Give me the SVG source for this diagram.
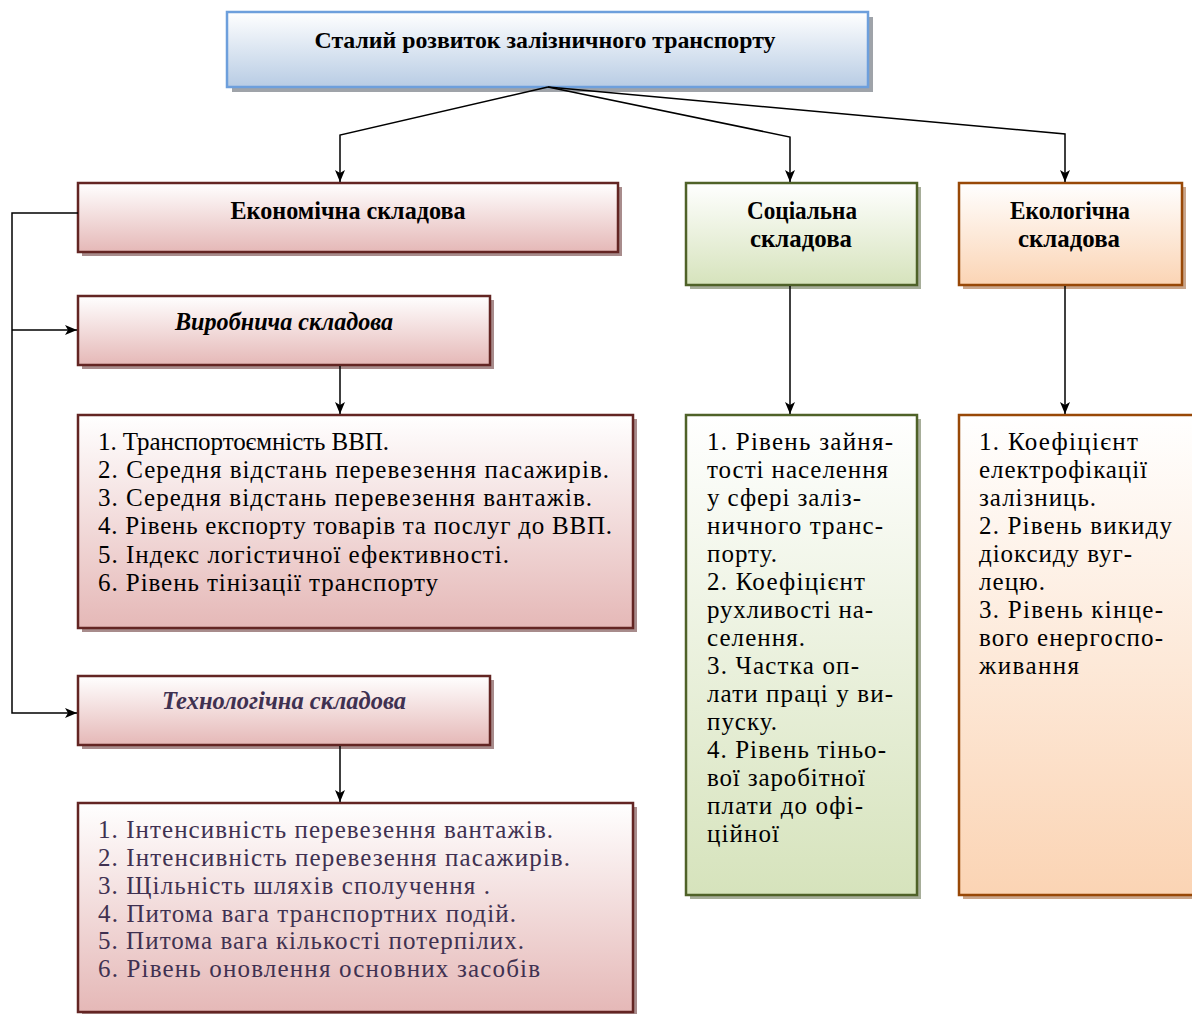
<svg xmlns="http://www.w3.org/2000/svg" width="1192" height="1014" viewBox="0 0 1192 1014">
<defs>
<linearGradient id="gBlue" x1="0" y1="0" x2="0" y2="1"><stop offset="0" stop-color="#ffffff"/><stop offset="1" stop-color="#b8cce4"/></linearGradient>
<linearGradient id="gRed" x1="0" y1="0" x2="0" y2="1"><stop offset="0" stop-color="#ffffff"/><stop offset="1" stop-color="#e5b8b7"/></linearGradient>
<linearGradient id="gGreen" x1="0" y1="0" x2="0" y2="1"><stop offset="0" stop-color="#ffffff"/><stop offset="1" stop-color="#d6e3bc"/></linearGradient>
<linearGradient id="gOrange" x1="0" y1="0" x2="0" y2="1"><stop offset="0" stop-color="#ffffff"/><stop offset="1" stop-color="#fbd4b4"/></linearGradient>
<marker id="arr" viewBox="0 0 12 10" refX="12" refY="5" markerWidth="12" markerHeight="10" markerUnits="userSpaceOnUse" orient="auto">
<path d="M0,0 L12,5 L0,10 L3,5 z" fill="#000"/>
</marker>
<style>
.sh-b{fill:#9fa3a9}
.sh-r{fill:#a88c8c}
.sh-g{fill:#a7ae9a}
.sh-o{fill:#c9a68c}
.bx-b{fill:url(#gBlue);stroke:#6d9fdc;stroke-width:2.5}
.bx-r{fill:url(#gRed);stroke:#632523;stroke-width:2.5}
.bx-g{fill:url(#gGreen);stroke:#4f6228;stroke-width:2.5}
.bx-o{fill:url(#gOrange);stroke:#984807;stroke-width:2.5}
.hd{font-family:"Liberation Serif","Times New Roman",serif;font-weight:bold;fill:#000;text-anchor:middle}
.it{font-style:italic}
.ls{font-family:"Liberation Serif","Times New Roman",serif;font-size:25px;fill:#000}
.ls2{font-family:"Liberation Serif","Times New Roman",serif;font-size:25px;fill:#000}
.lp{fill:#3f3151}
.cn{fill:none;stroke:#000;stroke-width:1.5}
</style>
</defs>
<rect width="1192" height="1014" fill="#fff"/>

<g id="node-root">
<rect class="sh-b" x="232" y="17" width="641" height="75"/>
<rect class="bx-b" x="227" y="12" width="641" height="75"/>
<text class="hd" x="545" y="48" font-size="24" textLength="461" lengthAdjust="spacingAndGlyphs">Сталий розвиток залізничного транспорту</text>
</g>

<g id="node-econ">
<rect class="sh-r" x="82" y="187" width="540" height="69"/>
<rect class="bx-r" x="78" y="183" width="540" height="69"/>
<text class="hd" x="348" y="219" font-size="26" textLength="235" lengthAdjust="spacingAndGlyphs">Економічна складова</text>
</g>

<g id="node-vyrob">
<rect class="sh-r" x="82" y="300" width="412" height="69"/>
<rect class="bx-r" x="78" y="296" width="412" height="69"/>
<text class="hd it" x="284" y="330" font-size="25" textLength="218" lengthAdjust="spacingAndGlyphs">Виробнича складова</text>
</g>

<g id="node-vyrob-list">
<rect class="sh-r" x="82" y="419" width="555" height="213"/>
<rect class="bx-r" x="78" y="415" width="555" height="213"/>
<text class="ls" x="98" y="450" textLength="291">1. Транспортоємність ВВП.</text>
<text class="ls" x="98" y="478" textLength="511">2. Середня відстань перевезення пасажирів.</text>
<text class="ls" x="98" y="506" textLength="494">3. Середня відстань перевезення вантажів.</text>
<text class="ls" x="98" y="534" textLength="514">4. Рівень експорту товарів та послуг до ВВП.</text>
<text class="ls" x="98" y="563" textLength="411">5. Індекс логістичної ефективності.</text>
<text class="ls" x="98" y="591" textLength="340">6. Рівень тінізації транспорту</text>
</g>

<g id="node-tech">
<rect class="sh-r" x="82" y="680" width="412" height="69"/>
<rect class="bx-r" x="78" y="676" width="412" height="69"/>
<text class="hd it" x="284" y="709" font-size="25" style="fill:#3f3151" textLength="244" lengthAdjust="spacingAndGlyphs">Технологічна складова</text>
</g>

<g id="node-tech-list">
<rect class="sh-r" x="82" y="807" width="555" height="209"/>
<rect class="bx-r" x="78" y="803" width="555" height="209"/>
<text class="ls lp" x="98" y="838" textLength="455">1. Інтенсивність перевезення вантажів.</text>
<text class="ls lp" x="98" y="866" textLength="472">2. Інтенсивність перевезення пасажирів.</text>
<text class="ls lp" x="98" y="894" textLength="392">3. Щільність шляхів сполучення .</text>
<text class="ls lp" x="98" y="922" textLength="418">4. Питома вага транспортних подій.</text>
<text class="ls lp" x="98" y="949" textLength="426">5. Питома вага кількості потерпілих.</text>
<text class="ls lp" x="98" y="977" textLength="442">6. Рівень оновлення основних засобів</text>
</g>

<g id="node-social">
<rect class="sh-g" x="690" y="187" width="231" height="102"/>
<rect class="bx-g" x="686" y="183" width="231" height="102"/>
<text class="hd" x="802" y="219" font-size="26" textLength="110" lengthAdjust="spacingAndGlyphs">Соціальна</text>
<text class="hd" x="801" y="247" font-size="26" textLength="102" lengthAdjust="spacingAndGlyphs">складова</text>
</g>

<g id="node-social-list">
<rect class="sh-g" x="690" y="419" width="231" height="480"/>
<rect class="bx-g" x="686" y="415" width="231" height="480"/>
<text class="ls2" x="707" y="450" textLength="186">1. Рівень зайня-</text>
<text class="ls2" x="707" y="478" textLength="181">тості населення</text>
<text class="ls2" x="707" y="506" textLength="154">у сфері заліз-</text>
<text class="ls2" x="707" y="534" textLength="176">ничного транс-</text>
<text class="ls2" x="707" y="562" textLength="70">порту.</text>
<text class="ls2" x="707" y="590" textLength="158">2. Коефіцієнт</text>
<text class="ls2" x="707" y="618" textLength="166">рухливості на-</text>
<text class="ls2" x="707" y="646" textLength="98">селення.</text>
<text class="ls2" x="707" y="674" textLength="152">3. Частка оп-</text>
<text class="ls2" x="707" y="702" textLength="186">лати праці у ви-</text>
<text class="ls2" x="707" y="730" textLength="70">пуску.</text>
<text class="ls2" x="707" y="758" textLength="179">4. Рівень тіньо-</text>
<text class="ls2" x="707" y="786" textLength="158">вої заробітної</text>
<text class="ls2" x="707" y="814" textLength="156">плати до офі-</text>
<text class="ls2" x="707" y="842" textLength="72">ційної</text>
</g>

<g id="node-eco">
<rect class="sh-o" x="963" y="187" width="223" height="102"/>
<rect class="bx-o" x="959" y="183" width="223" height="102"/>
<text class="hd" x="1070" y="219" font-size="26" textLength="120" lengthAdjust="spacingAndGlyphs">Екологічна</text>
<text class="hd" x="1069" y="247" font-size="26" textLength="102" lengthAdjust="spacingAndGlyphs">складова</text>
</g>

<g id="node-eco-list">
<rect class="sh-o" x="963" y="419" width="240" height="480"/>
<rect class="bx-o" x="959" y="415" width="240" height="480"/>
<text class="ls2" x="979" y="450" textLength="159">1. Коефіцієнт</text>
<text class="ls2" x="979" y="478" textLength="168">електрофікації</text>
<text class="ls2" x="979" y="506" textLength="117">залізниць.</text>
<text class="ls2" x="979" y="534" textLength="193">2. Рівень викиду</text>
<text class="ls2" x="979" y="562" textLength="153">діоксиду вуг-</text>
<text class="ls2" x="979" y="590" textLength="66">лецю.</text>
<text class="ls2" x="979" y="618" textLength="184">3. Рівень кінце-</text>
<text class="ls2" x="979" y="646" textLength="184">вого енергоспо-</text>
<text class="ls2" x="979" y="674" textLength="100">живання</text>
</g>

<g id="connectors">
<polyline class="cn" points="548,87 340,135 340,182" marker-end="url(#arr)"/>
<polyline class="cn" points="548,87 790,137 790,182" marker-end="url(#arr)"/>
<polyline class="cn" points="548,87 1065,134 1065,182" marker-end="url(#arr)"/>
<polyline class="cn" points="78,213 12,213 12,713 77,713" marker-end="url(#arr)"/>
<polyline class="cn" points="12,330 77,330" marker-end="url(#arr)"/>
<line class="cn" x1="340" y1="366" x2="340" y2="414" marker-end="url(#arr)"/>
<line class="cn" x1="340" y1="746" x2="340" y2="802" marker-end="url(#arr)"/>
<line class="cn" x1="790" y1="286" x2="790" y2="414" marker-end="url(#arr)"/>
<line class="cn" x1="1065" y1="286" x2="1065" y2="414" marker-end="url(#arr)"/>
</g>
</svg>
